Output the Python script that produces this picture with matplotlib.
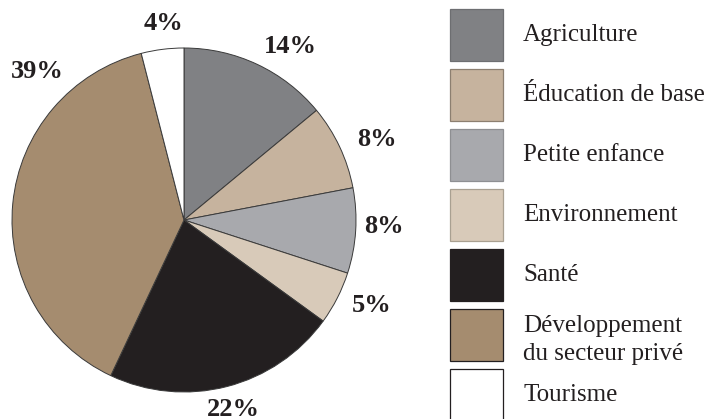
import matplotlib
matplotlib.use('Agg')
import matplotlib.pyplot as plt
from matplotlib.patches import Rectangle

# donnees (en %), dans le sens horaire depuis le haut
categories = ['Agriculture', 'Éducation de base', 'Petite enfance', 'Environnement',
              'Santé', 'Développement\ndu secteur privé', 'Tourisme']
shares = [14, 8, 8, 5, 22, 39, 4]
pct_labels = ['14%', '8%', '8%', '5%', '22%', '39%', '4%']

colors = ['#808184', '#c6b39e', '#a8a9ad', '#d8cab9', '#231f20', '#a58c6f', '#ffffff']
edge_colors = ['#6d6e71', '#8c7f70', '#8e8f92', '#a9a091', '#231f20', '#231f20', '#231f20']

# position des etiquettes (pixels, origine en haut a gauche)
label_pos = [(290, 46), (377, 139), (384, 226), (372, 306), (233, 409), (37, 71), (163, 23)]

W, H = 726, 419
fig = plt.figure(figsize=(W / 100, H / 100), dpi=100)
ax = fig.add_axes([0, 0, 1, 1])

cx, cy, r = 184, H - 220, 172
wedges, _ = ax.pie(shares, colors=colors, startangle=90, counterclock=False,
                   center=(cx, cy), radius=r,
                   wedgeprops=dict(linewidth=0.7, edgecolor='#3a3a3a'))
ax.set_xlim(0, W)
ax.set_ylim(0, H)
ax.set_aspect('equal')
ax.axis('off')

serif = ['Liberation Serif', 'DejaVu Serif']
for lab, (x, y) in zip(pct_labels, label_pos):
    ax.text(x, H - y, lab, ha='center', va='center', fontsize=19,
            fontweight='bold', family=serif, color='#231f20')

# legende
for i, (cat, c, ec) in enumerate(zip(categories, colors, edge_colors)):
    top = 9 + 60 * i
    ax.add_patch(Rectangle((450, H - top - 52), 53, 52, facecolor=c,
                           edgecolor=ec, linewidth=0.9))
    yc = top + 26 if '\n' not in cat else top + 31
    ax.text(523, H - yc, cat, ha='left', va='center', fontsize=18,
            family=serif, color='#231f20', linespacing=1.35)

fig.savefig('out.png', dpi=100)
